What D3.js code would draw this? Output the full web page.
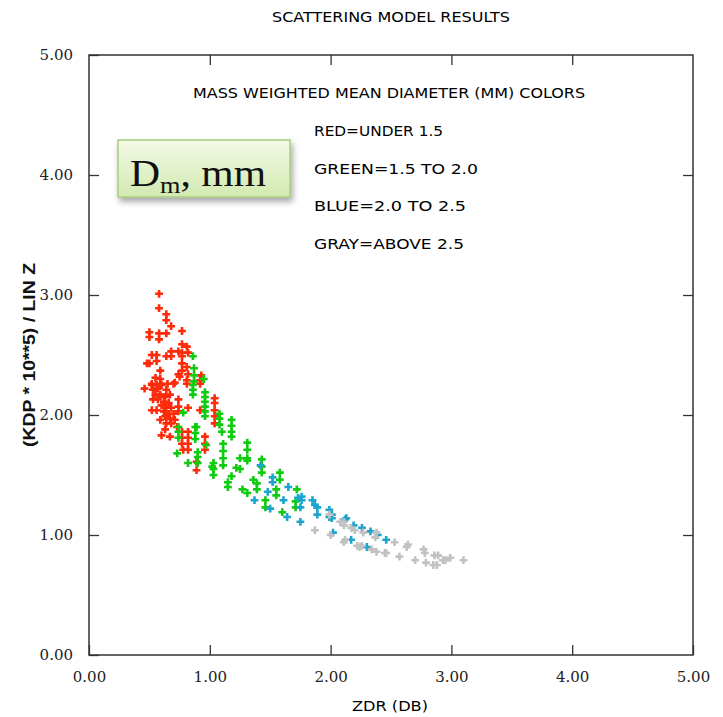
<!DOCTYPE html>
<html>
<head>
<meta charset="utf-8">
<script src="https://cdn.jsdelivr.net/npm/d3@7"></script>
<style>
  body { margin: 0; background: #fff; }
  svg { display: block; }
</style>
</head>
<body>
<div id="chart"></div>
<script>
// ZDR (dB), KDP*10^5/LinZ, one array per Dm class
const redPts = [
  [0.58,3.01],[0.58,2.89],[0.64,2.84],[0.64,2.79],[0.68,2.74],[0.77,2.70],[0.50,2.69],[0.50,2.65],
  [0.58,2.68],[0.58,2.63],[0.64,2.68],[0.77,2.59],[0.81,2.57],[0.52,2.50],[0.56,2.50],[0.56,2.45],
  [0.64,2.49],[0.68,2.53],[0.68,2.49],[0.74,2.53],[0.77,2.52],[0.77,2.49],[0.82,2.52],[0.48,2.43],
  [0.50,2.43],[0.77,2.43],[0.81,2.40],[0.59,2.37],[0.77,2.37],[0.74,2.34],[0.75,2.32],[0.82,2.34],
  [0.55,2.31],[0.59,2.30],[0.81,2.29],[0.93,2.33],[0.92,2.29],[0.52,2.26],[0.59,2.26],[0.65,2.26],
  [0.70,2.26],[0.81,2.26],[0.92,2.26],[0.46,2.22],[0.52,2.25],[0.56,2.25],[0.60,2.25],[0.53,2.21],
  [0.57,2.22],[0.64,2.21],[0.71,2.27],[0.55,2.17],[0.59,2.17],[0.63,2.15],[0.67,2.17],[0.74,2.13],
  [0.53,2.13],[0.57,2.13],[0.62,2.11],[0.66,2.10],[0.60,2.08],[0.64,2.07],[0.68,2.06],[0.74,2.07],
  [0.52,2.04],[0.56,2.04],[0.62,2.03],[0.66,2.01],[0.70,2.01],[0.74,2.03],[0.63,1.99],[0.67,1.97],
  [0.71,1.96],[0.59,1.96],[0.64,1.93],[0.68,1.93],[0.82,2.06],[0.63,1.88],[0.60,1.83],[0.67,1.82],
  [0.73,1.90],[0.77,1.86],[0.77,1.81],[0.77,1.76],[0.78,1.71],[0.82,1.86],[0.82,1.81],[0.82,1.76],
  [0.82,1.71],[0.96,1.82],[0.96,1.76],[0.96,1.71],[0.89,1.61],[0.89,1.54],[1.04,2.14],[1.04,2.10],
  [1.04,2.04],[1.04,1.99],[1.04,1.93],[0.92,2.04]
];
const greenPts = [
  [0.86,2.49],[0.87,2.39],[0.87,2.33],[0.87,2.28],[0.95,2.30],[0.86,2.25],[0.86,2.21],[0.86,2.17],
  [0.96,2.19],[0.96,2.15],[0.96,2.11],[0.96,2.07],[0.96,2.03],[0.96,1.99],[0.78,2.02],[0.74,1.90],
  [0.74,1.86],[0.74,1.81],[0.88,1.90],[0.88,1.85],[0.88,1.80],[0.73,1.68],[0.90,1.69],[0.90,1.65],
  [0.90,1.60],[0.82,1.60],[0.97,1.75],[1.08,2.01],[1.08,1.97],[1.08,1.92],[1.10,1.86],[1.18,1.96],
  [1.18,1.91],[1.18,1.86],[1.18,1.82],[1.11,1.76],[1.11,1.70],[1.11,1.64],[1.11,1.58],[1.03,1.60],
  [1.03,1.55],[1.03,1.50],[1.31,1.77],[1.31,1.71],[1.31,1.64],[1.25,1.64],[1.22,1.56],[1.18,1.49],
  [1.31,1.62],[1.25,1.55],[1.43,1.63],[1.43,1.57],[1.43,1.52],[1.36,1.46],[1.39,1.43],[1.39,1.38],
  [1.27,1.38],[1.31,1.35],[1.58,1.52],[1.58,1.46],[1.55,1.38],[1.55,1.33],[1.46,1.29],[1.46,1.23],
  [1.72,1.38],[1.71,1.28],[1.71,1.23],[1.60,1.19],[1.15,1.44],[1.15,1.40],[1.02,1.57],[0.89,1.90]
];
const bluePts = [
  [1.52,1.48],[1.52,1.44],[1.48,1.36],[1.37,1.29],[1.50,1.22],[1.65,1.40],[1.61,1.29],[1.64,1.15],
  [1.76,1.32],[1.76,1.29],[1.75,1.23],[1.75,1.11],[1.85,1.29],[1.87,1.25],[1.89,1.23],[1.89,1.17],
  [1.99,1.21],[1.99,1.15],[2.12,1.13],[2.01,1.17],[2.01,1.14],[2.13,1.14],[2.19,1.08],[2.26,1.06],
  [2.33,1.03],[2.39,1.00],[2.46,0.96],[2.17,0.96],[2.30,0.90],[2.02,1.02],[1.42,1.58],[1.73,1.31]
];
const grayPts = [
  [1.99,1.17],[2.08,1.11],[2.11,1.11],[2.11,1.08],[2.17,1.06],[2.20,1.04],[2.27,1.02],[2.37,0.98],
  [2.53,0.94],[2.64,0.92],[2.11,0.94],[2.22,0.91],[2.26,0.91],[2.34,0.88],[2.38,0.86],[2.45,0.85],
  [2.57,0.82],[2.77,0.88],[2.78,0.85],[2.70,0.79],[2.79,0.77],[2.86,0.83],[2.89,0.83],[2.88,0.75],
  [2.95,0.79],[2.99,0.81],[3.10,0.79],[1.87,1.04],[2.00,1.00],[2.12,0.96],[2.24,0.90],[2.38,1.02],
  [2.46,0.85],[2.63,0.90],[2.93,0.79],[2.85,0.75]
];

const xTicks = [0, 1, 2, 3, 4, 5];
const yTicks = [0, 1, 2, 3, 4, 5];
const legendLines = ['RED=UNDER 1.5', 'GREEN=1.5 TO 2.0', 'BLUE=2.0 TO 2.5', 'GRAY=ABOVE 2.5'];

const width = 723, height = 717;
const margin = {top: 55, right: 30, bottom: 62, left: 89};
const innerW = width - margin.left - margin.right,
      innerH = height - margin.top - margin.bottom;
const hershey = '"DejaVu Sans", sans-serif';

const svg = d3.select('#chart').append('svg')
  .attr('width', width)
  .attr('height', height);

// ----------------------------------
// SCALES + FRAME
// ----------------------------------
const x = d3.scaleLinear().domain([0, 5]).range([0, innerW]);
const y = d3.scaleLinear().domain([0, 5]).range([innerH, 0]);

const g = svg.append('g')
  .attr('transform', `translate(${margin.left},${margin.top})`);

g.append('rect')
  .attr('width', innerW).attr('height', innerH)
  .style('fill', 'none').style('stroke', '#333').style('stroke-width', 1.5);

const tickLen = 10;
const fmt = d3.format('.2f');

// bottom axis, ticks pointing up into the plot
g.append('g')
  .attr('transform', `translate(0,${innerH})`)
  .call(d3.axisBottom(x).tickValues(xTicks).tickFormat(fmt).tickSize(-tickLen).tickPadding(16));
// left axis, ticks pointing right
g.append('g')
  .call(d3.axisLeft(y).tickValues(yTicks).tickFormat(fmt).tickSize(-tickLen).tickPadding(16));
// top and right mirrored ticks
g.append('g')
  .call(d3.axisTop(x).tickValues(xTicks.slice(1, -1)).tickSize(-tickLen).tickFormat(''));
g.append('g')
  .attr('transform', `translate(${innerW},0)`)
  .call(d3.axisRight(y).tickValues(yTicks.slice(1, -1)).tickSize(-tickLen).tickFormat(''));

g.selectAll('.domain').remove();
g.selectAll('.tick line').style('stroke', '#333').style('stroke-width', 1.3);
g.selectAll('.tick text')
  .style('font-family', '"DejaVu Serif", serif')
  .style('font-size', '15px')
  .style('fill', '#222');

// ----------------------------------
// POINTS
// ----------------------------------
const cross = d3.symbol().type(d3.symbolCross).size(34);
const series = [
  {pts: redPts, color: '#ff2a0a'},
  {pts: greenPts, color: '#10cc10'},
  {pts: bluePts, color: '#1ea5cf'},
  {pts: grayPts, color: '#c2c2c2'}
];
series.forEach(s => {
  g.append('g').selectAll('path')
    .data(s.pts)
    .enter()
    .append('path')
      .attr('d', cross)
      .attr('transform', d => `translate(${x(d[0])},${y(d[1])})`)
      .style('fill', s.color);
});

// ----------------------------------
// TEXT
// ----------------------------------
function hersheyText(sel) {
  sel.style('font-family', hershey).style('font-size', '14px')
    .style('font-weight', 500).style('fill', '#000')
    .attr('lengthAdjust', 'spacingAndGlyphs');
}

svg.append('text')
  .text('SCATTERING MODEL RESULTS')
  .attr('x', 391).attr('y', 22)
  .attr('text-anchor', 'middle')
  .attr('textLength', 238)
  .call(hersheyText);

svg.append('text')
  .text('MASS WEIGHTED MEAN DIAMETER (MM) COLORS')
  .attr('x', 389).attr('y', 98)
  .attr('text-anchor', 'middle')
  .attr('textLength', 392)
  .call(hersheyText);

const legendLens = [129, 164, 152, 150];
svg.append('g').selectAll('text')
  .data(legendLines)
  .enter()
  .append('text')
    .text(d => d)
    .attr('x', 314)
    .attr('y', (d, i) => 136 + i * 37.5)
    .attr('textLength', (d, i) => legendLens[i])
    .call(hersheyText);

svg.append('text')
  .text('ZDR (DB)')
  .attr('x', 390).attr('y', 711)
  .attr('text-anchor', 'middle')
  .attr('textLength', 76)
  .call(hersheyText);

svg.append('text')
  .text('(KDP * 10**5) / LIN Z')
  .attr('transform', 'translate(35,355) rotate(-90)')
  .attr('text-anchor', 'middle')
  .attr('textLength', 184).attr('lengthAdjust', 'spacingAndGlyphs')
  .style('font-family', '"Liberation Sans", Arial, sans-serif')
  .style('font-weight', 'bold')
  .style('font-size', '17px')
  .style('fill', '#111');

// ----------------------------------
// Dm CALLOUT BOX
// ----------------------------------
const defs = svg.append('defs');
const grad = defs.append('linearGradient')
  .attr('id', 'boxGrad').attr('x1', 0).attr('y1', 0).attr('x2', 0).attr('y2', 1);
grad.append('stop').attr('offset', '0%').attr('stop-color', '#f4fae8');
grad.append('stop').attr('offset', '100%').attr('stop-color', '#d2eab0');
const shadow = defs.append('filter').attr('id', 'boxShadow')
  .attr('x', '-10%').attr('y', '-20%').attr('width', '130%').attr('height', '150%');
shadow.append('feDropShadow')
  .attr('dx', 2).attr('dy', 4).attr('stdDeviation', 3)
  .attr('flood-color', '#000').attr('flood-opacity', 0.35);

svg.append('rect')
  .attr('x', 118).attr('y', 140).attr('width', 172).attr('height', 57)
  .style('fill', 'url(#boxGrad)')
  .style('stroke', '#a8cc80').style('stroke-width', 1.5)
  .attr('filter', 'url(#boxShadow)');

const dm = svg.append('text')
  .attr('x', 130).attr('y', 186)
  .attr('textLength', 136).attr('lengthAdjust', 'spacingAndGlyphs')
  .style('font-family', '"Liberation Serif", "Times New Roman", serif')
  .style('font-size', '38px')
  .style('fill', '#111');
dm.append('tspan').text('D');
dm.append('tspan').text('m').attr('dy', 7).style('font-size', '24px');
dm.append('tspan').text(', mm').attr('dy', -7);
</script>
</body>
</html>
